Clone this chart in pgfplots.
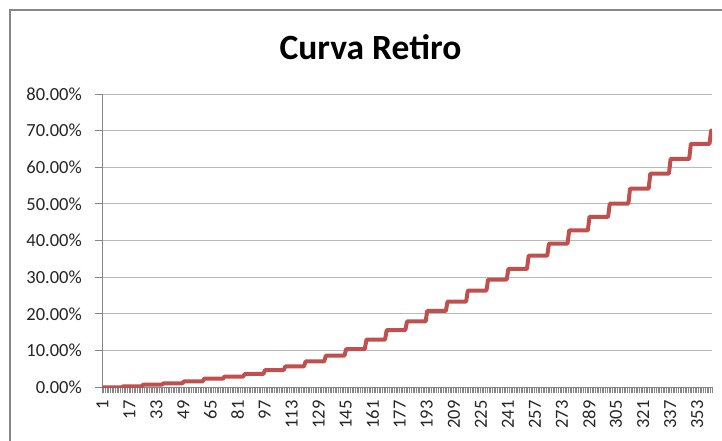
\documentclass[border=0pt]{standalone}
\usepackage{pgfplots}
\pgfplotsset{compat=1.18}
\usepackage{fontspec}
\setmainfont{Carlito}
\definecolor{exred}{RGB}{192,80,77}
\definecolor{gridgray}{RGB}{185,185,185}
\definecolor{axgray}{RGB}{134,134,134}
\begin{document}
\begin{tikzpicture}[x=1pt,y=1pt]
\useasboundingbox (0,0) rectangle (722,440);
\clip (0,0) rectangle (722,440);
\fill[white] (0,0) rectangle (722,440);
\draw[axgray, line width=1.6pt] (10,-10) -- (10,430) -- (740,430);
\node[font=\fontsize{35.5}{40}\selectfont\bfseries, anchor=base] at (370.5,380) {Curva Retiro};
\begin{axis}[
  scale only axis, width=610pt, height=293.3pt,
  at={(102pt,52.7pt)}, anchor=south west,
  xmin=0.5, xmax=361.5, ymin=0, ymax=80,
  axis lines*=left,
  axis line style={axgray, line width=1pt},
  ymajorgrids, grid style={gridgray, line width=1pt},
  ytick={0,10,...,80},
  yticklabel={\pgfmathprintnumber[fixed,fixed zerofill,precision=2]{\tick}\%},
  xtick={1,17,...,353},
  minor xtick={0.5,1.5,...,361.5},
  tick align=outside,
  major tick length=7pt,
  minor tick length=6pt,
  major x tick style={draw=none},
  minor x tick style={axgray, line width=0.8pt},
  major y tick style={axgray, line width=1pt},
  tick label style={font=\fontsize{18.5}{20}\selectfont, text=black!85, inner sep=0pt},
  /pgf/number format/assume math mode=true,
  yticklabel style={anchor=east, xshift=-13pt},
  xticklabel style={rotate=90, anchor=east, xshift=-6pt, yshift=0.5pt},
]
\addplot[exred, line width=4pt, line join=round, line cap=round] coordinates {
(1,0) (12,0)
(13,0.25) (24,0.25)
(25,0.75) (36,0.75)
(37,1.1) (48,1.1)
(49,1.6) (60,1.6)
(61,2.35) (72,2.35)
(73,2.9) (84,2.9)
(85,3.65) (96,3.65)
(97,4.7) (108,4.7)
(109,5.7) (120,5.7)
(121,7.05) (132,7.05)
(133,8.65) (144,8.65)
(145,10.4) (156,10.4)
(157,13.0) (168,13.0)
(169,15.6) (180,15.6)
(181,17.95) (192,17.95)
(193,20.85) (204,20.85)
(205,23.4) (216,23.4)
(217,26.4) (228,26.4)
(229,29.4) (240,29.4)
(241,32.3) (252,32.3)
(253,35.9) (264,35.9)
(265,39.2) (276,39.2)
(277,42.8) (288,42.8)
(289,46.5) (300,46.5)
(301,50.1) (312,50.1)
(313,54.2) (324,54.2)
(325,58.3) (336,58.3)
(337,62.3) (348,62.3)
(349,66.4) (360,66.4)
(361,70.0)
};
\end{axis}
\end{tikzpicture}
\end{document}
